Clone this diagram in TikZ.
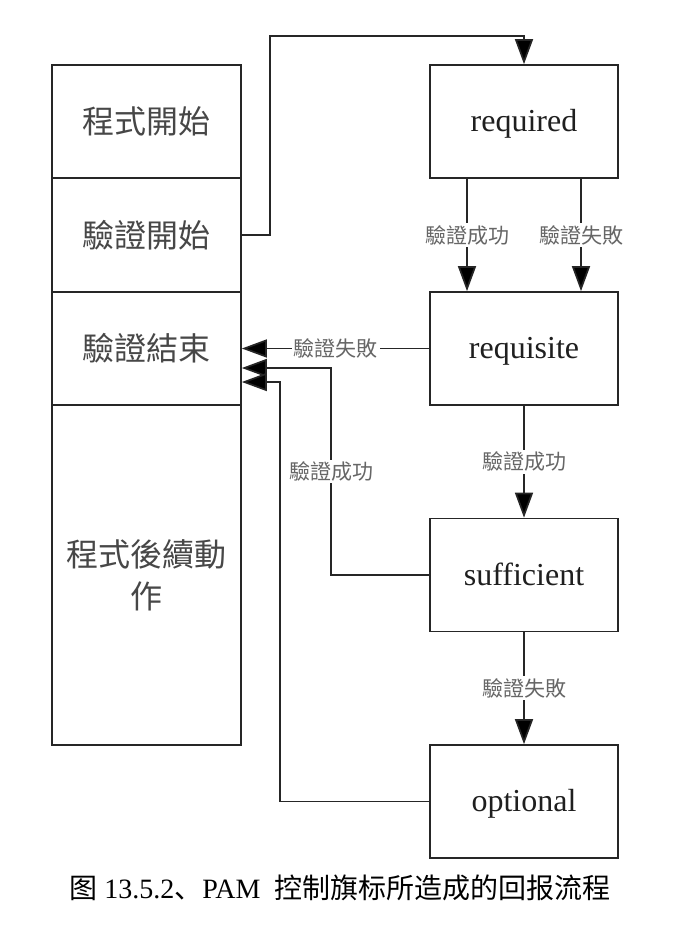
\documentclass[tikz,border=0pt]{standalone}
\usepackage{fontspec}
\setmainfont{Liberation Serif}
\newfontfamily\cjk{Noto Sans CJK TC}
\newfontfamily\cjksc{Noto Sans CJK SC}
\usetikzlibrary{arrows.meta}
\begin{document}
\begin{tikzpicture}[x=1pt,y=-1pt,
  box/.style={draw=black!85, line width=1.7pt, rectangle, inner sep=0pt, minimum width=189pt},
  cbox/.style={box, font=\cjk\fontsize{32}{42}\selectfont, text=black!72, align=center},
  ebox/.style={box, minimum width=188pt, minimum height=113pt, font=\fontsize{32}{38}\selectfont, text=black!88, text height=20pt, text depth=0pt},
  arr/.style={draw=black!85, line width=1.7pt, -{Triangle[width=18pt,length=25pt,fill=black]}},
  lbl/.style={fill=white, inner sep=2pt, font=\cjk\fontsize{21}{24}\selectfont, text=black!60}]
\useasboundingbox[fill=white] (0,0) rectangle (679,935);
% left column
\node[cbox, minimum height=113pt] (b1) at (146.5,121.5) {程式開始};
\node[cbox, minimum height=114pt] (b2) at (146.5,235) {驗證開始};
\node[cbox, minimum height=113pt] (b3) at (146.5,348.5) {驗證結束};
\node[cbox, minimum height=340pt] (b4) at (146.5,575) {程式後續動\\作};
% right column
\node[ebox] (req) at (524,121.5) {required};
\node[ebox] (reqs) at (524,348.5) {requisite};
\node[ebox] (suf) at (524,575) {sufficient};
\node[ebox] (opt) at (524,801.5) {optional};
% connectors
\coordinate (c1) at (270,36);
\draw[arr] (b2.east) -| (c1) -| (req.north);
\draw[arr] ([xshift=-57pt]req.south) -- node[lbl]{驗證成功} ([xshift=-57pt]reqs.north);
\draw[arr] ([xshift=57pt]req.south) -- node[lbl]{驗證失敗} ([xshift=57pt]reqs.north);
\draw[arr] (reqs.west) -- node[lbl]{驗證失敗} (b3.east);
\draw[arr] (reqs.south) -- node[lbl]{驗證成功} (suf.north);
\draw[arr] (suf.south) -- node[lbl]{驗證失敗} (opt.north);
\coordinate (c2) at (331,368);
\draw[arr] (suf.west) -| node[lbl,pos=0.75]{驗證成功} (c2) -- (c2 -| b3.east);
\coordinate (c3) at (280,382);
\draw[arr] (opt.west) -| (c3) -- (c3 -| b3.east);
% caption
\node[inner sep=0pt, font=\fontsize{28}{32}\selectfont] (cap) at (340,888)
  {{\cjksc 图} 13.5.2{\cjksc 、}PAM\ \ {\cjksc 控制旗标所造成的回报流程}};
\end{tikzpicture}
\end{document}
